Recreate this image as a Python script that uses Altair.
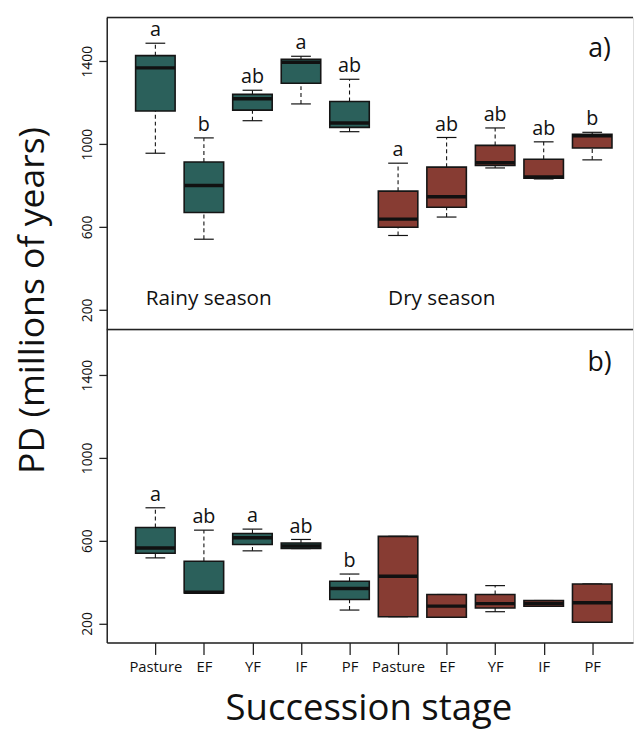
import altair as alt
import pandas as pd

# ---------------- data ----------------
stages = ["Pasture", "EF", "YF", "IF", "PF"]
seasons = ["Rainy season", "Dry season"]
tick_labels = stages + stages

# panel a) : lower whisker, Q1, median, Q3, upper whisker (rainy x5, dry x5)
a_low = [956, 541, 1113, 1194, 1060, 559, 648, 885, 832, 924]
a_q1 = [1160, 670, 1164, 1294, 1081, 599, 695, 897, 835, 981]
a_med = [1368, 800, 1219, 1395, 1102, 638, 746, 910, 841, 1040]
a_q3 = [1427, 914, 1240, 1410, 1206, 773, 889, 994, 927, 1048]
a_high = [1487, 1030, 1260, 1424, 1313, 908, 1032, 1078, 1011, 1057]
a_letters = ["a", "b", "ab", "a", "ab", "a", "ab", "ab", "ab", "b"]

# panel b)
b_low = [517, 348, 551, 562, 265, 233, 230, 257, 283, 206]
b_q1 = [539, 348, 582, 562, 316, 233, 230, 275, 283, 206]
b_med = [565, 351, 614, 574, 369, 428, 284, 296, 297, 300]
b_q3 = [664, 501, 635, 589, 404, 621, 340, 340, 311, 391]
b_high = [759, 651, 656, 606, 439, 621, 340, 383, 311, 391]
b_letters = ["a", "ab", "a", "ab", "b", "", "", "", "", ""]

season_label_x = [2.1, 6.9]
season_label_y = [250, 250]
panel_tags = ["a)", "b)"]
tag_x = 10.15
tag_y = 1460

TEAL = "#2b605b"
BROWN = "#873c33"
FONT = "Open Sans"
W = 533
PX_PER_UNIT = 50.1
XDOM = [0.1, 0.1 + W / PX_PER_UNIT]


def make_df(low, q1, med, q3, high, letters):
    return pd.DataFrame({
        "pos": list(range(1, 11)),
        "stage": tick_labels,
        "season": [seasons[0]] * 5 + [seasons[1]] * 5,
        "low": low, "q1": q1, "med": med, "q3": q3, "high": high,
        "letter": letters,
    })


label_expr = "[" + ",".join("'%s'" % s for s in tick_labels) + "][datum.value - 1]"


def panel(df, ydom, height, tag, show_x, show_seasons, ytitle):
    xscale = alt.Scale(domain=XDOM, nice=False, zero=False)
    yscale = alt.Scale(domain=ydom, nice=False, zero=False)
    if show_x:
        xaxis = alt.Axis(values=list(range(1, 11)), labelExpr=label_expr,
                         tickSize=12, labelPadding=5, labelFontSize=15,
                         labelColor="#111", tickColor="#222", domainColor="#222",
                         domainWidth=1.5, tickWidth=1.3, grid=False,
                         title="Succession stage", titleFontSize=37,
                         titleFontWeight="normal", titleColor="#111",
                         titleBaseline="alphabetic", titleAnchor="start",
                         titleAlign="center", titleX=265, titleY=78)
    else:
        xaxis = None
    yaxis_kw = dict(values=[200, 600, 1000, 1400], format="d", labelAngle=270,
                    labelAlign="center", labelBaseline="bottom", tickSize=8,
                    labelPadding=4, labelFontSize=14, labelColor="#111",
                    tickColor="#222", domainColor="#222", domainWidth=1.5,
                    tickWidth=1.3, grid=False)
    if ytitle:
        yaxis = alt.Axis(title=ytitle, titleFontSize=36, titleFontWeight="normal",
                         titleColor="#111", titleAngle=270, titleAlign="center",
                         titleBaseline="alphabetic", titleX=-64, titleY=-30, **yaxis_kw)
    else:
        yaxis = alt.Axis(title=None, **yaxis_kw)

    base = alt.Chart(df)
    x = alt.X("pos:Q", scale=xscale, axis=xaxis)
    y = lambda f: alt.Y(f + ":Q", scale=yscale, axis=yaxis)

    whisk_up = base.mark_rule(color="#111", strokeWidth=1.1, strokeDash=[4, 3]).encode(
        x=x, y=y("q3"), y2="high:Q")
    whisk_lo = base.mark_rule(color="#111", strokeWidth=1.1, strokeDash=[4, 3]).encode(
        x=x, y=y("low"), y2="q1:Q")
    cap_hi = base.mark_tick(orient="horizontal", size=20, thickness=1.2, color="#111",
                            opacity=1).encode(x=x, y=y("high"))
    cap_lo = base.mark_tick(orient="horizontal", size=20, thickness=1.2, color="#111",
                            opacity=1).encode(x=x, y=y("low"))
    box = base.mark_bar(orient="vertical", size=40, stroke="#151515", strokeWidth=1.6,
                        opacity=1).encode(
        x=x, y=y("q1"), y2="q3:Q",
        color=alt.Color("season:N", scale=alt.Scale(domain=seasons, range=[TEAL, BROWN]),
                        legend=None))
    med = base.mark_tick(orient="horizontal", size=40, thickness=3.5, color="#111",
                         opacity=1).encode(x=x, y=y("med"))
    letters = base.mark_text(fontSize=20, font=FONT, color="#111", baseline="alphabetic",
                             dy=-7).encode(x=x, y=y("high"), text="letter:N")

    tagdf = pd.DataFrame({"pos": [tag_x], "high": [tag_y], "t": [tag]})
    tagt = alt.Chart(tagdf).mark_text(fontSize=27, font=FONT, color="#111",
                                      baseline="middle").encode(
        x=x, y=y("high"), text="t:N")

    fr = pd.DataFrame({"k": [0]})
    top = alt.Chart(fr).mark_rule(color="#222", strokeWidth=1.5).encode(
        x=alt.value(0), x2=alt.value(W), y=alt.value(0))
    layers = [whisk_up, whisk_lo, cap_hi, cap_lo, box, med, letters, tagt, top]
    if show_seasons:
        sdf = pd.DataFrame({"pos": season_label_x, "high": season_label_y, "t": seasons})
        st = alt.Chart(sdf).mark_text(fontSize=21, font=FONT, color="#111",
                                      baseline="middle").encode(
            x=x, y=y("high"), text="t:N")
        layers.append(st)
    return alt.layer(*layers).properties(width=W, height=height)


pa = panel(make_df(a_low, a_q1, a_med, a_q3, a_high, a_letters), [105, 1611], 316,
           panel_tags[0], False, True, None)
pb = panel(make_df(b_low, b_q1, b_med, b_q3, b_high, b_letters), [108, 1620], 317,
           panel_tags[1], True, False, "PD (millions of years)")

chart = alt.vconcat(pa, pb, spacing=0, bounds="flush").properties(
    padding={"left": 6, "top": 3, "right": 0, "bottom": 5}
).configure_view(stroke=None).configure(font=FONT)

chart.save("out.html", embed_options={"renderer": "svg", "actions": False})
